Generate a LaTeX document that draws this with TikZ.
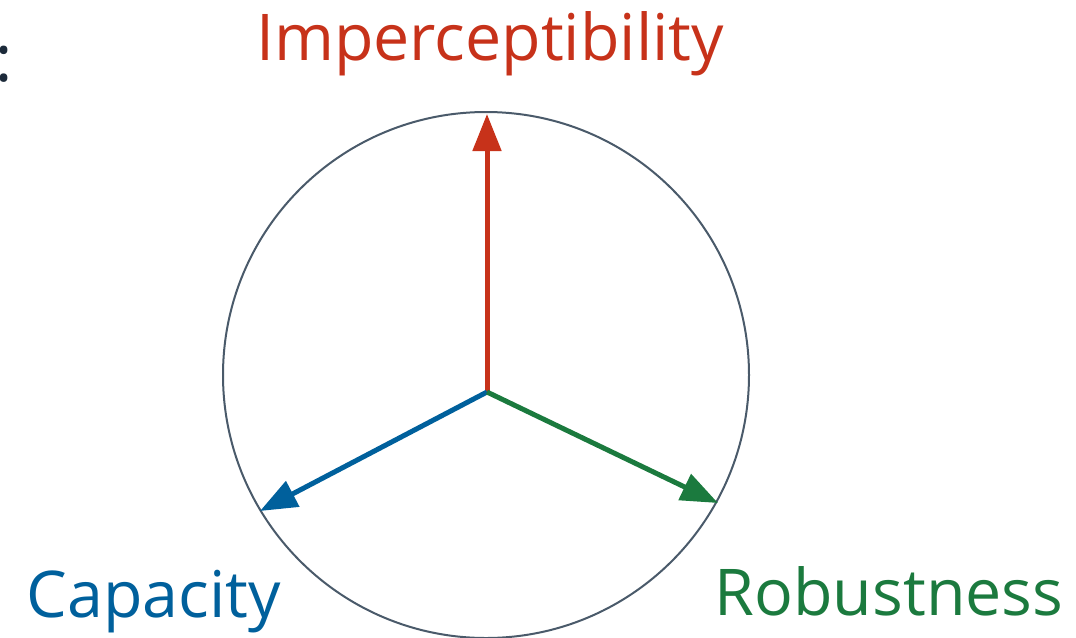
\documentclass[tikz,border=0pt]{standalone}
\usepackage{fontspec}
\setmainfont[Ligatures=NoCommon]{Open Sans}
\usetikzlibrary{arrows.meta}

\definecolor{impred}{HTML}{C7321A}
\definecolor{capblue}{HTML}{00609C}
\definecolor{robgreen}{HTML}{1B7A3E}
\definecolor{ringgray}{HTML}{4A5A6A}
\definecolor{inkdark}{HTML}{1C2A3A}

\tikzset{
  axis/.style={line width=0.1cm, -{Triangle[length=0.74cm, width=0.56cm]}},
  label/.style={inner sep=0pt, anchor=base, font=\fontsize{36.7}{40}\selectfont}
}

\begin{document}
\begin{tikzpicture}[x=0.02cm, y=-0.02cm]
    \useasboundingbox (0,0) rectangle (1076,637);

    % 1. Vòng tròn
    \draw[ringgray, line width=0.04cm] (486,375) circle (263);

    % 2. Tâm và các đầu mút
    \coordinate (o) at (487,392);
    \coordinate (top) at (487,114);
    \coordinate (left) at (260,511);
    \coordinate (right) at (718,503);

    % 3. Ba mũi tên
    \draw[axis, impred] (o) -- (top);
    \draw[axis, capblue] (o) -- (left);
    \draw[axis, robgreen] (o) -- (right);

    % 4. Nhãn
    \node[label, impred] (imp) at (490,60) {Imperceptibility};
    \node[label, capblue] (cap) at (154,617) {Capacity};
    \node[label, robgreen] (rob) at (889,615) {Robustness};
    \node[label, inkdark] (colon) at (4,81) {:};
\end{tikzpicture}
\end{document}
